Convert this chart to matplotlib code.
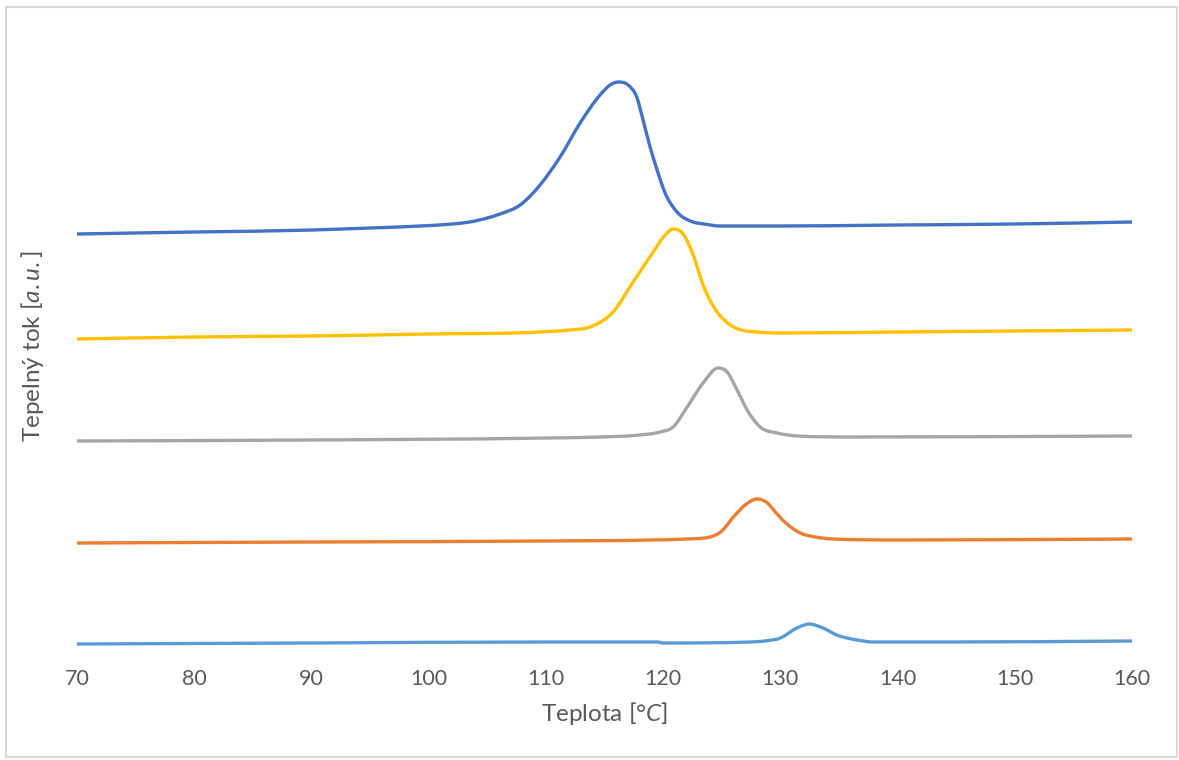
import matplotlib.pyplot as plt
from matplotlib.patches import Rectangle, PathPatch
from matplotlib.path import Path

# DSC krivky, posunute nad sebou (a.u.)
t_1 = [70, 80, 90, 95, 99.3, 102, 103.5, 105, 106.09, 107.8, 109.5, 111.21, 112.92,
       114.62, 115.48, 116.16, 117.01, 117.78, 118.29, 118.89, 119.49, 120.17, 121.19,
       122.56, 123.5, 124.86, 130, 140, 150, 160]
y_1 = [418, 420, 422, 424, 426, 428, 430, 434, 438, 447, 467, 495, 529,
       557, 567, 570, 567, 554, 532, 505, 482, 459, 440,
       430, 428, 426, 426, 427, 428, 430]

t_2 = [70, 80, 90, 100, 109.5, 112, 113.77, 115.73, 117.44, 119.15, 120.1, 120.85,
       121.71, 122.56, 123.41, 124.61, 125.5, 126.4, 128, 130, 140, 150, 160]
y_2 = [313, 315, 316, 318, 320, 322, 325, 340, 370, 400, 416, 423,
       418, 397, 367, 340, 329, 323, 320, 319, 320, 321, 322]

t_3 = [70, 90, 110, 114.6, 118, 119.74, 120.85, 122.05, 123.41, 124.69, 125.46,
       126.31, 127.17, 128.28, 129.73, 131.5, 136, 160]
y_3 = [211, 212, 214, 215, 217, 220, 225, 245, 269, 284, 280,
       262, 242, 225, 219, 216, 215, 216]

t_4 = [70, 90, 110, 118.9, 122, 124, 125, 126, 127, 128, 128.9, 129.5, 130.2,
       131, 131.7, 133, 134.5, 140.2, 160]
y_4 = [109, 110, 111, 112, 113, 115, 121, 135, 147, 153, 149, 141, 132,
       124, 119, 115, 113, 112, 113]

t_5 = [70, 90, 110, 119.5, 120, 127.4, 129, 130, 130.6, 131.1, 131.8, 132.5, 133.2,
       134, 134.8, 135.7, 136.8, 137.9, 144.5, 160]
y_5 = [8, 9, 10, 10, 9, 10, 11.5, 14, 18, 22, 26, 28, 26,
       22, 17, 14, 11.5, 10, 10, 11]

x_ticks = [70, 80, 90, 100, 110, 120, 130, 140, 150, 160]


def smooth_line(ax, x, y, color):
    # vyhladena cara jako v Excelu: kubicke Bezierovy useky,
    # smernice z paraboly pres tri body, omezene proti prekmitu
    n = len(x)
    h = [x[i + 1] - x[i] for i in range(n - 1)]
    d = [(y[i + 1] - y[i]) / h[i] for i in range(n - 1)]
    m = [d[0]] + [0.0] * (n - 2) + [d[-1]]
    for k in range(1, n - 1):
        if d[k - 1] * d[k] > 0:
            mk = (h[k] * d[k - 1] + h[k - 1] * d[k]) / (h[k - 1] + h[k])
            lim = 3 * min(abs(d[k - 1]), abs(d[k]))
            m[k] = max(-lim, min(lim, mk))
    verts = [(x[0], y[0])]
    codes = [Path.MOVETO]
    for i in range(n - 1):
        verts += [(x[i] + h[i] / 3, y[i] + m[i] * h[i] / 3),
                  (x[i + 1] - h[i] / 3, y[i + 1] - m[i + 1] * h[i] / 3),
                  (x[i + 1], y[i + 1])]
        codes += [Path.CURVE4] * 3
    ax.add_patch(PathPatch(Path(verts, codes), fill=False, edgecolor=color,
                           lw=2.4, capstyle='butt', joinstyle='round'))


plt.rcParams['font.family'] = ['Lato', 'DejaVu Sans']
plt.rcParams['mathtext.fontset'] = 'custom'
plt.rcParams['mathtext.rm'] = 'Lato'
plt.rcParams['mathtext.it'] = 'Lato:italic'

fig = plt.figure(figsize=(11.79, 7.6), dpi=100)
ax = fig.add_axes([77 / 1179, 1 - 652 / 760, (1132 - 77) / 1179, 612 / 760])

smooth_line(ax, t_1, y_1, '#4472C4')
smooth_line(ax, t_2, y_2, '#FFC000')
smooth_line(ax, t_3, y_3, '#A5A5A5')
smooth_line(ax, t_4, y_4, '#ED7D31')
smooth_line(ax, t_5, y_5, '#5B9BD5')

ax.set_xlim(70, 160)
ax.set_ylim(0, 612)
ax.set_xticks(x_ticks)
ax.set_yticks([])
ax.tick_params(axis='x', length=0, pad=12, labelsize=15.5, labelcolor='#595959')
for s in ax.spines.values():
    s.set_visible(False)

ax.set_xlabel(r'Teplota [°$\mathit{C}$]', fontsize=17.5, color='#595959', labelpad=8)
ax.set_ylabel(r'Tepelný tok [$\mathit{a.u.}$]', fontsize=17.5, color='#595959', labelpad=22)

fig.patches.append(Rectangle((6 / 1179, 3 / 760), 1171 / 1179, 750 / 760,
                             transform=fig.transFigure, fill=False,
                             edgecolor='#D9D9D9', lw=1.5))

fig.savefig('out.png', dpi=100)
